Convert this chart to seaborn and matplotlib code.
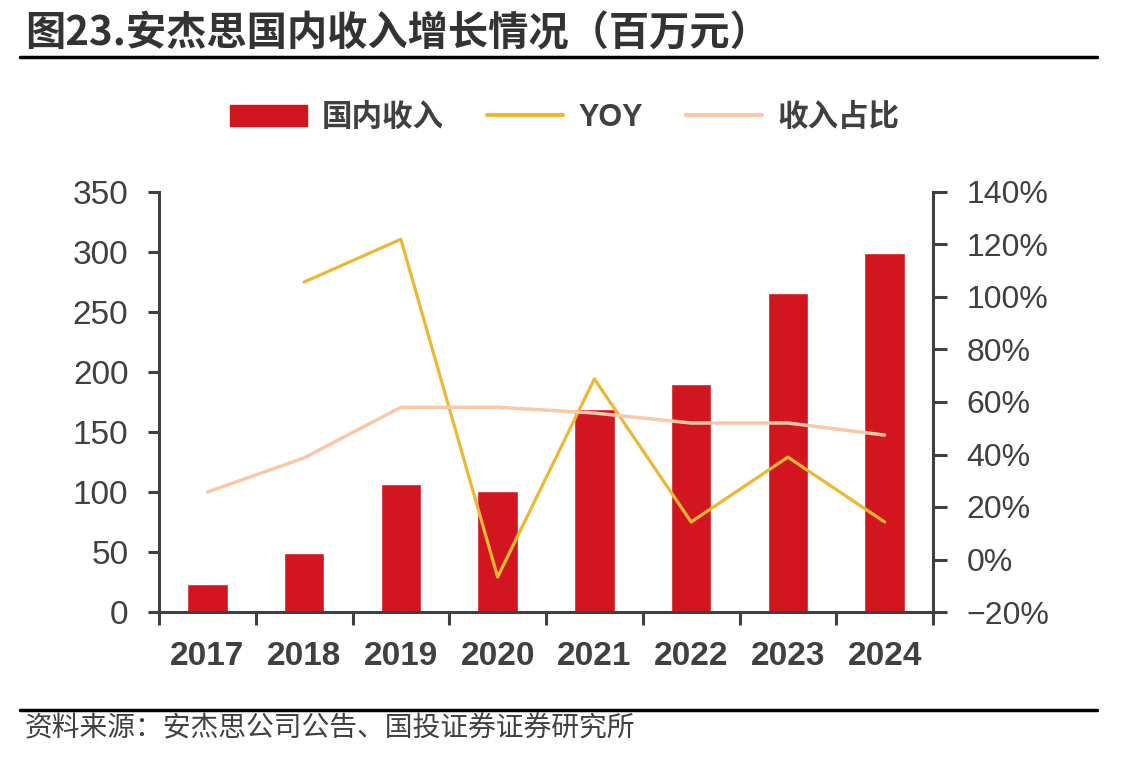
import numpy as np
import pandas as pd
import seaborn as sns
import matplotlib
matplotlib.use('Agg')
import matplotlib.pyplot as plt
from matplotlib.patches import Patch
from matplotlib.lines import Line2D
from matplotlib.ticker import PercentFormatter

# data
years = ['2017', '2018', '2019', '2020', '2021', '2022', '2023', '2024']
domestic_rev = [23, 49, 107, 101, 169, 190, 266, 299]          # 百万元
yoy = [np.nan, 105.7, 122.0, -6.7, 68.8, 14.3, 39.0, 14.3]      # %
share = [25.7, 38.7, 58.0, 58.0, 55.8, 52.0, 52.0, 47.4]        # %

title = '图23.安杰思国内收入增长情况（百万元）'
source = '资料来源：安杰思公司公告、国投证券证券研究所'
labels = ['国内收入', 'YOY', '收入占比']

RED = '#D2161F'
YELLOW = '#EBB735'
PEACH = '#F8C8A8'
GREY = '#404040'


def main():
    sns.set_style('ticks')
    plt.rcParams['font.family'] = ['Liberation Sans', 'Noto Sans CJK SC', 'DejaVu Sans']
    plt.rcParams['axes.unicode_minus'] = True

    df = pd.DataFrame({'year': years, 'rev': domestic_rev, 'yoy': yoy,
                       'share': share, 'pos': range(len(years))})

    fig = plt.figure(figsize=(11.47, 7.59), dpi=100)
    ax = fig.add_axes([159 / 1147, 1 - 612 / 759, 774 / 1147, 420 / 759])

    sns.barplot(data=df, x='year', y='rev', color=RED, saturation=1,
                width=0.42, ax=ax)

    ax2 = ax.twinx()
    sns.lineplot(data=df, x='pos', y='yoy', color=YELLOW, lw=2.3, ax=ax2)
    sns.lineplot(data=df, x='pos', y='share', color=PEACH, lw=2.5, ax=ax2)

    ax.set_xlim(-0.5, len(years) - 0.5)
    ax.set_ylim(0, 350)
    ax2.set_ylim(-20, 140)
    ax.set_yticks(range(0, 351, 50))
    ax2.set_yticks(range(-20, 141, 20))
    ax2.yaxis.set_major_formatter(PercentFormatter(decimals=0))
    for a in (ax, ax2):
        a.set_xlabel('')
        a.set_ylabel('')

    # spines
    for s in ['top', 'right']:
        ax.spines[s].set_visible(False)
    for s in ['top', 'left', 'bottom']:
        ax2.spines[s].set_visible(False)
    for sp in [ax.spines['left'], ax.spines['bottom'], ax2.spines['right']]:
        sp.set_color(GREY)
        sp.set_linewidth(2.2)

    # ticks: x ticks between categories
    ax.set_xticks(np.arange(-0.5, len(years), 1), minor=True)
    ax.tick_params(axis='x', which='major', length=0, pad=21, labelsize=24,
                   labelcolor=GREY)
    ax.tick_params(axis='x', which='minor', length=9, width=2.2, color=GREY)
    for lab in ax.get_xticklabels():
        lab.set_fontweight('bold')
    ax.tick_params(axis='y', length=8, width=2.2, color=GREY, pad=14,
                   labelsize=24, labelcolor=GREY)
    ax2.tick_params(axis='y', length=10, width=2.2, color=GREY, pad=14,
                    labelsize=23, labelcolor=GREY)

    # legend
    handles = [Patch(color=RED),
               Line2D([0], [0], color=YELLOW, lw=3),
               Line2D([0], [0], color=PEACH, lw=3)]
    leg = fig.legend(handles, labels, loc='center', ncol=3, frameon=False,
                     bbox_to_anchor=(565 / 1147, 1 - 118 / 759),
                     prop={'family': ['Liberation Sans', 'Noto Sans CJK SC'],
                           'size': 22, 'weight': 'bold'},
                     handlelength=2.5, handletextpad=0.5, columnspacing=1.4)
    for t in leg.get_texts():
        t.set_color(GREY)

    # title, rules and source
    fig.text(25 / 1147, 1 - 34 / 759, title, fontsize=29, weight='bold',
             color='#333333', va='center', ha='left',
             family=['Noto Sans CJK SC', 'DejaVu Sans'])
    fig.add_artist(Line2D([20 / 1147, 1097 / 1147], [1 - 57 / 759] * 2,
                          lw=2.5, color='black'))
    fig.add_artist(Line2D([20 / 1147, 1097 / 1147], [1 - 710 / 759] * 2,
                          lw=2.5, color='black'))
    fig.text(25 / 1147, 1 - 728 / 759, source, fontsize=20, color=GREY,
             va='center', ha='left', family=['Noto Sans CJK SC', 'DejaVu Sans'])

    fig.savefig('out.png', dpi=100)


if __name__ == '__main__':
    main()
